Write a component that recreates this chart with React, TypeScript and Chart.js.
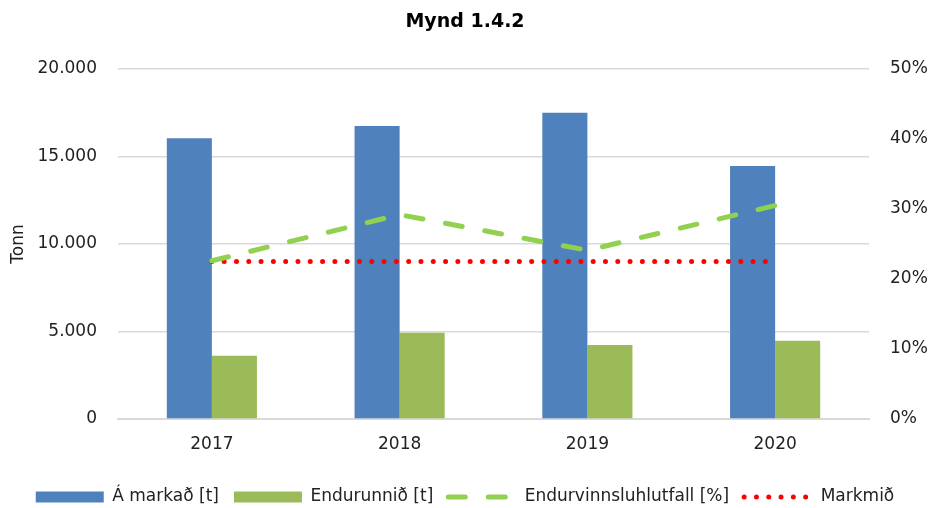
import React, { useEffect, useRef } from "react";
import { Chart, registerables } from "chart.js";

Chart.register(...registerables);

const categories = ["2017", "2018", "2019", "2020"];
const marketTonnes = [16040, 16740, 17500, 14460];
const recycledTonnes = [3620, 4930, 4230, 4470];
const recyclingRate = [22.6, 29.2, 24.1, 30.5];
const targetRate = [22.5, 22.5, 22.5, 22.5];
const leftTicks = [0, 5000, 10000, 15000, 20000];
const rightTicks = [0, 10, 20, 30, 40, 50];

const FONT = "'DejaVu Sans', sans-serif";

export default function App() {
  const ref = useRef<HTMLCanvasElement | null>(null);

  useEffect(() => {
    if (!ref.current) return;
    const chart = new Chart(ref.current, {
      type: "bar",
      data: {
        labels: categories,
        datasets: [
          {
            type: "bar",
            label: "Á markað [t]",
            data: marketTonnes,
            backgroundColor: "#4F81BD",
            borderWidth: 0,
            yAxisID: "y",
            order: 2,
          },
          {
            type: "bar",
            label: "Endurunnið [t]",
            data: recycledTonnes,
            backgroundColor: "#9BBB59",
            borderWidth: 0,
            yAxisID: "y",
            order: 2,
          },
          {
            type: "line",
            label: "Endurvinnsluhlutfall [%]",
            data: recyclingRate,
            borderColor: "#92D050",
            backgroundColor: "#92D050",
            borderWidth: 5,
            borderDash: [17, 23],
            borderCapStyle: "round",
            pointRadius: 0,
            fill: false,
            tension: 0,
            yAxisID: "y1",
            order: 1,
          },
          {
            type: "line",
            label: "Markmið",
            data: targetRate,
            borderColor: "#FF0000",
            backgroundColor: "#FF0000",
            borderWidth: 5,
            borderDash: [0, 12.3],
            borderCapStyle: "round",
            pointRadius: 0,
            fill: false,
            tension: 0,
            yAxisID: "y1",
            order: 1,
          },
        ],
      },
      options: {
        responsive: false,
        animation: false,
        devicePixelRatio: 1,
        layout: { padding: 0 },
        datasets: {
          bar: { categoryPercentage: 0.48, barPercentage: 1 },
        },
        plugins: {
          tooltip: { enabled: false },
          title: {
            display: true,
            text: "Mynd 1.4.2",
            color: "#000",
            font: { family: FONT, size: 19, weight: "bold" },
            padding: { top: 11, bottom: 35.2 },
          },
          legend: {
            position: "bottom",
            maxHeight: 34.5,
            labels: {
              color: "#222",
              font: { family: FONT, size: 17 },
              padding: 15,
              usePointStyle: true,
              pointStyleWidth: 68,
              boxHeight: 11,
              generateLabels: (c: any) =>
                c.data.datasets.map((ds: any, i: number) => ({
                  text: ds.label,
                  fillStyle: ds.type === "line" ? "rgba(0,0,0,0)" : ds.backgroundColor,
                  strokeStyle: ds.type === "line" ? ds.borderColor : ds.backgroundColor,
                  lineWidth: ds.type === "line" ? ds.borderWidth : 0,
                  lineDash: ds.borderDash || [],
                  lineCap: ds.borderCapStyle || "butt",
                  pointStyle: ds.type === "line" ? "line" : "rect",
                  hidden: false,
                  fontColor: "#222",
                  datasetIndex: i,
                })),
            },
          },
        },
        scales: {
          x: {
            grid: { display: false, drawTicks: false },
            border: { display: true, color: "#D9D9D9", width: 2 },
            ticks: { color: "#222", font: { family: FONT, size: 17 }, padding: 15 },
            afterFit: (s: any) => {
              s.height = 54.5;
            },
          },
          y: {
            position: "left",
            min: 0,
            max: 20000,
            afterBuildTicks: (s: any) => {
              s.ticks = leftTicks.map((v) => ({ value: v }));
            },
            grid: { color: "#D9D9D9", lineWidth: 1.5, drawTicks: false },
            border: { display: false },
            ticks: {
              color: "#222",
              font: { family: FONT, size: 17 },
              padding: 21,
              callback: (v: any) => Number(v).toLocaleString("de-DE"),
            },
            title: {
              display: true,
              text: "Tonn",
              color: "#222",
              font: { family: FONT, size: 17 },
              padding: { top: 8, bottom: 0 },
            },
            afterFit: (s: any) => {
              s.width = 118;
            },
          },
          y1: {
            position: "right",
            min: 0,
            max: 50,
            afterBuildTicks: (s: any) => {
              s.ticks = rightTicks.map((v) => ({ value: v }));
            },
            grid: { drawOnChartArea: false, drawTicks: false },
            border: { display: false },
            ticks: {
              color: "#222",
              font: { family: FONT, size: 17 },
              padding: 21,
              callback: (v: any) => v + "%",
            },
            afterFit: (s: any) => {
              s.width = 61;
            },
          },
        },
      },
    } as any);
    return () => chart.destroy();
  }, []);

  return (
    <div style={{ position: "absolute", left: 0, top: 0, width: 930, height: 508, background: "#fff" }}>
      <canvas ref={ref} width={930} height={508} style={{ width: 930, height: 508, display: "block" }} />
    </div>
  );
}
